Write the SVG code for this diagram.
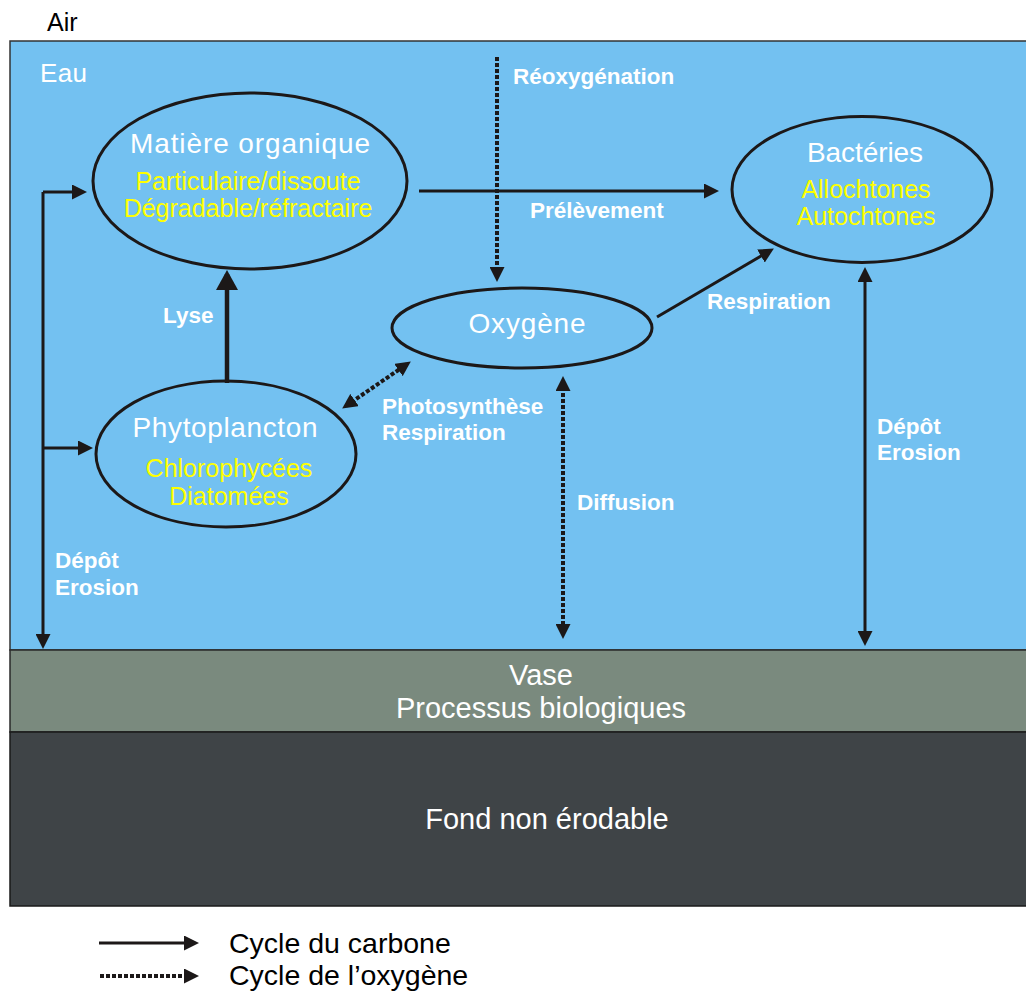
<svg xmlns="http://www.w3.org/2000/svg" width="1026" height="992" viewBox="0 0 1026 992">
<style>
.ell{fill:none;stroke:#1c1818;stroke-width:3}
.ttl{font-family:"Liberation Sans",Arial,sans-serif;font-size:28px;fill:#ffffff;text-anchor:middle}
.sub{font-family:"Liberation Sans",Arial,sans-serif;font-size:25px;fill:#ffff00;text-anchor:middle}
.lbl{font-family:"Liberation Sans",Arial,sans-serif;font-size:22.5px;font-weight:bold;fill:#ffffff}
.big{font-family:"Liberation Sans",Arial,sans-serif;font-size:29px;fill:#ffffff;text-anchor:middle}
.leg{font-family:"Liberation Sans",Arial,sans-serif;font-size:28.5px;fill:#000000}
.c{fill:none;stroke:#1c1818;stroke-width:3}
.d{fill:none;stroke:#1c1818;stroke-width:4;stroke-dasharray:4 2}
</style>
<defs>
<marker id="ah" markerUnits="userSpaceOnUse" markerWidth="15" markerHeight="15" refX="10" refY="7.5" orient="auto-start-reverse" viewBox="0 0 15 15">
<path d="M0,0 L15,7.5 L0,15 Z" fill="#1c1818"/>
</marker>
<marker id="ahb" markerUnits="userSpaceOnUse" markerWidth="20" markerHeight="22" refX="16" refY="11" orient="auto" viewBox="0 0 20 22">
<path d="M0,0 L20,11 L0,22 Z" fill="#1c1818"/>
</marker>
</defs>
<rect x="0" y="0" width="1026" height="992" fill="#ffffff"/>
<g id="layers">
<rect x="10" y="41" width="1020" height="609" fill="#73c1f1" stroke="#333" stroke-width="1.5"/>
<rect x="10" y="650" width="1020" height="82" fill="#7a8a7e" stroke="#2a2a2a" stroke-width="1.5"/>
<rect x="10" y="732" width="1020" height="174" fill="#3f4447" stroke="#1a1a1a" stroke-width="1.5"/>
<text x="47" y="31" style="font-family:'Liberation Sans',Arial,sans-serif;font-size:25px;fill:#000">Air</text>
<text x="40" y="82" textLength="47" style="font-family:'Liberation Sans',Arial,sans-serif;font-size:26px;fill:#ffffff">Eau</text>
<text x="541" y="685" class="big">Vase</text>
<text x="541" y="718" class="big">Processus biologiques</text>
<text x="547" y="829" class="big">Fond non érodable</text>
</g>
<g id="connectors">
<path class="c" d="M43,192 L43,644" marker-end="url(#ah)"/>
<path class="c" d="M43,192 L82,192" marker-end="url(#ah)"/>
<path class="c" d="M43,448 L88,448" marker-end="url(#ah)"/>
<path d="M227,383 L227,274" fill="none" stroke="#1c1818" stroke-width="4.5" marker-end="url(#ahb)"/>
<path class="d" d="M346.3,405.7 L406.7,364.3" marker-start="url(#ah)" marker-end="url(#ah)"/>
<path class="d" d="M563,381 L563,634" marker-start="url(#ah)" marker-end="url(#ah)"/>
<path class="d" d="M497,57 L497,277" marker-end="url(#ah)"/>
<path class="c" d="M419,191 L714,191" marker-end="url(#ah)"/>
<path class="c" d="M657,317 L769.6,251" marker-end="url(#ah)"/>
<path class="c" d="M865,272 L865,641" marker-start="url(#ah)" marker-end="url(#ah)"/>
<text x="163" y="323" class="lbl">Lyse</text>
<text x="382" y="414" class="lbl">Photosynthèse</text>
<text x="382" y="440" class="lbl">Respiration</text>
<text x="577" y="510" class="lbl">Diffusion</text>
<text x="513" y="84" class="lbl">Réoxygénation</text>
<text x="530" y="218" class="lbl">Prélèvement</text>
<text x="707" y="309" class="lbl">Respiration</text>
<text x="877" y="434" class="lbl">Dépôt</text>
<text x="877" y="460" class="lbl">Erosion</text>
<text x="55" y="568" class="lbl">Dépôt</text>
<text x="55" y="595" class="lbl">Erosion</text>
</g>
<g id="matiere">
<ellipse class="ell" cx="250" cy="181" rx="157" ry="88"/>
<text x="250" y="153" class="ttl" textLength="240">Matière organique</text>
<text x="248" y="190" class="sub">Particulaire/dissoute</text>
<text x="248" y="217" class="sub">Dégradable/réfractaire</text>
</g>
<g id="bacteries">
<ellipse class="ell" cx="862" cy="189.5" rx="130" ry="73"/>
<text x="865" y="162" class="ttl" textLength="116">Bactéries</text>
<text x="866" y="198" class="sub">Allochtones</text>
<text x="866" y="225" class="sub">Autochtones</text>
</g>
<g id="oxygene">
<ellipse class="ell" cx="522" cy="328" rx="130" ry="40"/>
<text x="527" y="333" class="ttl" textLength="117">Oxygène</text>
</g>
<g id="phytoplancton">
<ellipse class="ell" cx="226" cy="454" rx="130" ry="73"/>
<text x="225" y="437" class="ttl" textLength="185">Phytoplancton</text>
<text x="229" y="477" class="sub">Chlorophycées</text>
<text x="229" y="505" class="sub">Diatomées</text>
</g>
<g id="legend">
<path class="c" d="M99,943 L194,943" marker-end="url(#ah)"/>
<path class="d" d="M100,976 L194,976" marker-end="url(#ah)"/>
<text x="229" y="953" class="leg">Cycle du carbone</text>
<text x="229" y="985" class="leg">Cycle de l’oxygène</text>
</g>
</svg>
